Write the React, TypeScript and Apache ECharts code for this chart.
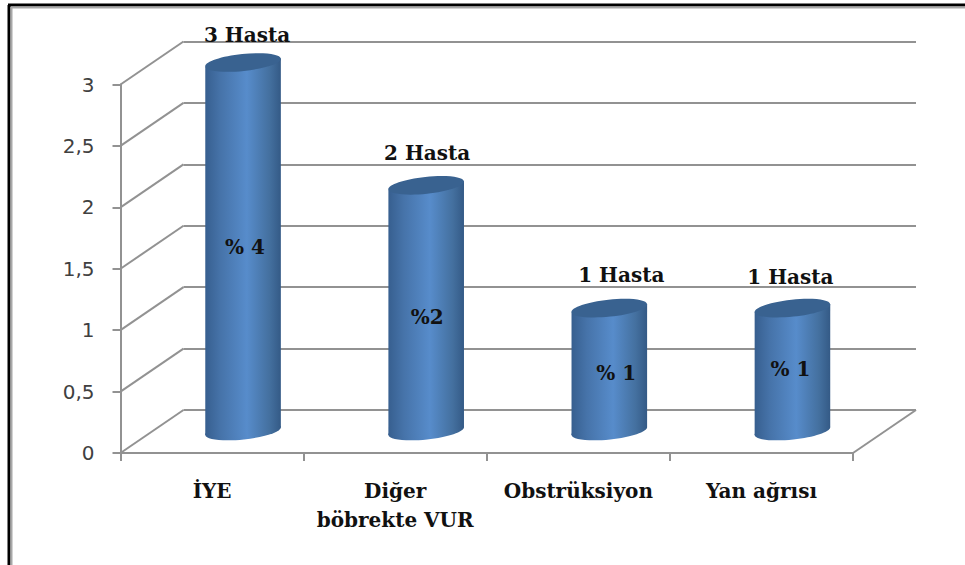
import React, { useEffect, useRef } from "react";
import * as echarts from "echarts";

const categories = ["İYE", "Diğer\nböbrekte VUR", "Obstrüksiyon", "Yan ağrısı"];
const patients = [3, 2, 1, 1];
const topLabels = ["3 Hasta", "2 Hasta", "1 Hasta", "1 Hasta"];
const innerLabels = ["% 4", "%2", "% 1", "% 1"];
const yTicks = [0, 0.5, 1, 1.5, 2, 2.5, 3];

const DX = 63;
const DY = -43;
const CYL_DX = 31;
const CYL_DY = -22;
const RX = 38;
const RY = 8.5;
const TILT = (6 * Math.PI) / 180;
const topNudge = [[4, 28], [1, 32], [12, 33], [-2, 31]];
const innerNudge = [[2, 0], [1, 9], [7, 3], [-2, -1]];
const SERIF = "'DejaVu Serif', serif";
const TEXT_FONT = `bold 20px ${SERIF}`;
const LINE = "#929292";

const bodyGradient = () =>
  new echarts.graphic.LinearGradient(0, 0, 1, 0, [
    { offset: 0, color: "#375f8f" },
    { offset: 0.2, color: "#4673a9" },
    { offset: 0.55, color: "#578ccb" },
    { offset: 0.85, color: "#44709f" },
    { offset: 1, color: "#345a86" },
  ]);

export default function App() {
  const ref = useRef<HTMLDivElement>(null);
  useEffect(() => {
    document.body.style.margin = "0";
    const chart = echarts.init(ref.current!, undefined, { renderer: "svg" });
    chart.setOption({
      animation: false,
      backgroundColor: "#ffffff",
      graphic: [
        { type: "line", shape: { x1: 9, y1: 5, x2: 9, y2: 565 }, style: { stroke: "#000", lineWidth: 3 } },
        { type: "line", shape: { x1: 8, y1: 5, x2: 965, y2: 5 }, style: { stroke: "#000", lineWidth: 3 } },
        { type: "line", shape: { x1: 11.5, y1: 7, x2: 11.5, y2: 565 }, style: { stroke: "#a8a8a8", lineWidth: 2 } },
        { type: "line", shape: { x1: 11, y1: 7.5, x2: 965, y2: 7.5 }, style: { stroke: "#a8a8a8", lineWidth: 2 } },
      ],
      grid: [
        { left: 120.5, top: 84.5, width: 732.5, height: 368.5 },
        { left: 183.5, top: 41.5, width: 732.5, height: 368.5 },
      ],
      xAxis: [
        {
          type: "category",
          gridIndex: 0,
          data: categories,
          axisLine: { lineStyle: { color: LINE, width: 2 } },
          axisTick: { show: true, length: 8, lineStyle: { color: LINE, width: 2 } },
          axisLabel: {
            interval: 0,
            margin: 23,
            color: "#111",
            fontFamily: SERIF,
            fontWeight: "bold",
            fontSize: 20,
            lineHeight: 29,
          },
          splitLine: { show: false },
        },
        { type: "category", gridIndex: 1, data: categories, show: false },
      ],
      yAxis: [
        {
          type: "value",
          gridIndex: 0,
          min: 0,
          max: 3,
          interval: 0.5,
          axisLine: { show: true, lineStyle: { color: LINE, width: 2 } },
          axisTick: { show: true, length: 8, lineStyle: { color: LINE, width: 2 } },
          axisLabel: {
            margin: 26,
            color: "#404040",
            fontFamily: "'DejaVu Sans', sans-serif",
            fontSize: 20,
            padding: [4, 0, 0, 0],
            formatter: (v: number) => String(v).replace(".", ","),
          },
          splitLine: { show: false },
        },
        {
          type: "value",
          gridIndex: 1,
          min: 0,
          max: 3,
          interval: 0.5,
          axisLine: { show: false },
          axisTick: { show: false },
          axisLabel: { show: false },
          splitLine: { show: true, lineStyle: { color: LINE, width: 2 } },
        },
      ],
      series: [
        {
          type: "custom",
          name: "walls",
          xAxisIndex: 0,
          yAxisIndex: 0,
          silent: true,
          z: 1,
          data: yTicks,
          encode: { y: 0 },
          renderItem: (_p: any, api: any) => {
            const [, y] = api.coord([0, api.value(0)]);
            return {
              type: "line",
              shape: { x1: 120.5, y1: y, x2: 120.5 + DX, y2: y + DY },
              style: { stroke: LINE, lineWidth: 2 },
            };
          },
        },
        {
          type: "custom",
          name: "floor",
          xAxisIndex: 0,
          yAxisIndex: 0,
          silent: true,
          z: 1,
          data: [0],
          encode: { y: 0 },
          renderItem: (_p: any, api: any) => {
            const [, y] = api.coord([0, api.value(0)]);
            return {
              type: "line",
              shape: { x1: 853, y1: y, x2: 853 + DX, y2: y + DY },
              style: { stroke: LINE, lineWidth: 2 },
            };
          },
        },
        {
          type: "custom",
          name: "Hasta",
          xAxisIndex: 0,
          yAxisIndex: 0,
          z: 5,
          data: patients.map((v, i) => [i, v]),
          encode: { x: 0, y: 1 },
          renderItem: (_p: any, api: any) => {
            const i = api.value(0);
            const v = api.value(1);
            const top = api.coord([i, v]);
            const base = api.coord([i, 0]);
            const cx = top[0] + CYL_DX;
            const topY = top[1] + CYL_DY;
            const baseY = base[1] + CYL_DY;
            const ex = RX * Math.cos(TILT);
            const ey = RX * Math.sin(TILT);
            const ellipse = (cy: number, fill: any) => ({
              type: "ellipse",
              x: cx,
              y: cy,
              rotation: TILT,
              shape: { cx: 0, cy: 0, rx: RX, ry: RY },
              style: { fill },
            });
            return {
              type: "group",
              children: [
                ellipse(baseY, bodyGradient()),
                {
                  type: "polygon",
                  shape: {
                    points: [
                      [cx - ex, topY + ey],
                      [cx - ex, baseY + ey],
                      [cx + ex, baseY - ey],
                      [cx + ex, topY - ey],
                    ],
                  },
                  style: { fill: bodyGradient() },
                },
                ellipse(topY, "#396290"),
                {
                  type: "text",
                  style: {
                    x: cx + topNudge[i][0],
                    y: topY - topNudge[i][1],
                    text: topLabels[i],
                    fill: "#111",
                    font: TEXT_FONT,
                    align: "center",
                    verticalAlign: "middle",
                  },
                },
                {
                  type: "text",
                  style: {
                    x: cx + innerNudge[i][0],
                    y: (topY + baseY) / 2 + innerNudge[i][1],
                    text: innerLabels[i],
                    fill: "#111",
                    font: TEXT_FONT,
                    align: "center",
                    verticalAlign: "middle",
                  },
                },
              ],
            };
          },
        },
      ],
    });
    return () => chart.dispose();
  }, []);
  return <div ref={ref} style={{ width: 965, height: 565 }} />;
}
